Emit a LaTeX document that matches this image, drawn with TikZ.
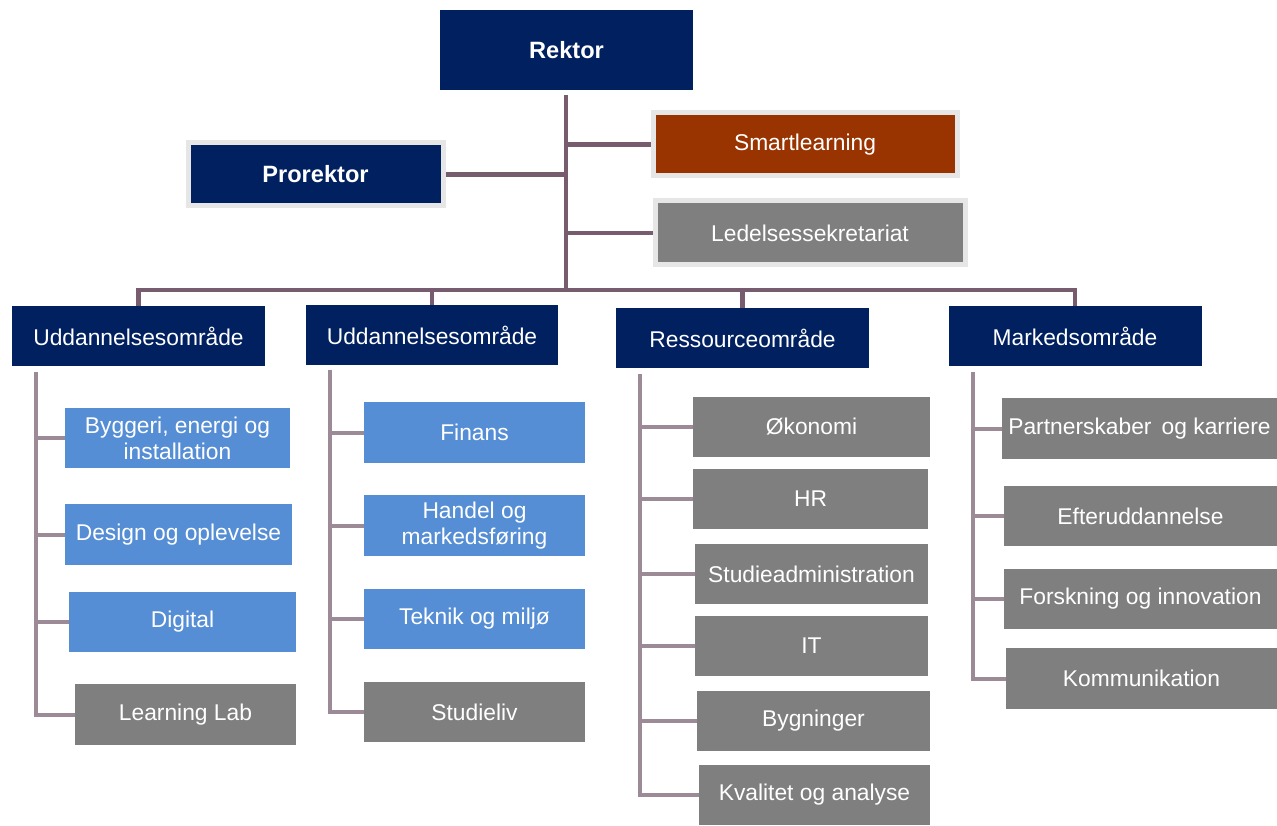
\documentclass[tikz,border=0pt]{standalone}
\usepackage{fontspec}
\setmainfont{Liberation Sans}
\usepackage{tikz}

\definecolor{navy}{RGB}{0,32,96}
\definecolor{rust}{RGB}{153,51,0}
\definecolor{lyseblaa}{RGB}{85,142,213}
\definecolor{graa}{RGB}{127,127,127}
\definecolor{ramme}{RGB}{230,230,230}
\definecolor{linjemork}{RGB}{118,92,110}
\definecolor{linjelys}{RGB}{156,138,150}

\tikzset{
  boks/.style={rectangle,inner sep=2pt,text=white,align=center,font=\fontsize{22.8}{26}\selectfont},
  chef/.style={boks,fill=navy,font=\fontsize{23.6}{27}\selectfont\bfseries},
  stab/.style={boks,draw=ramme,line width=5pt},
  omr/.style={boks,fill=navy},
  fag/.style={boks,fill=lyseblaa},
  adm/.style={boks,fill=graa},
  linje/.style={draw=linjemork,line width=4.5pt},
  gren/.style={draw=linjelys,line width=4pt}
}

\begin{document}
\begin{tikzpicture}[x=1pt,y=-1pt]
\useasboundingbox (0,0) rectangle (1277,826);

\node[chef,minimum width=253pt,minimum height=80pt] (rektor) at (566.5,50) {Rektor};
\node[stab,chef,minimum width=255pt,minimum height=63pt] (prorektor) at (315.5,174.5) {Prorektor};
\node[stab,fill=rust,minimum width=304pt,minimum height=63pt] (smart) at (805,144.5) {Smartlearning};
\node[stab,fill=graa,minimum width=310pt,minimum height=64pt] (sekr) at (810,233) {Ledelsessekretariat};

\node[omr,minimum width=253pt,minimum height=60pt] (omr1) at (138.5,336) {Uddannelsesområde};
\node[omr,minimum width=252pt,minimum height=60pt] (omr2) at (432,335) {Uddannelsesområde};
\node[omr,minimum width=253pt,minimum height=60pt] (omr3) at (742.5,338) {Ressourceområde};
\node[omr,minimum width=253pt,minimum height=60pt] (omr4) at (1075,336) {Markedsområde};

\coordinate (top) at (566,95);
\coordinate (bus) at (566,290);
\draw[linje] (top) -- (bus);
\draw[linje] (prorektor.east) -- (prorektor.east -| bus);
\draw[linje] (smart.west) -- (smart.west -| bus);
\draw[linje] (sekr.west) -- (sekr.west -| bus);
\draw[linje] (omr1.north) |- (bus) -| (omr4.north);
\draw[linje] (omr2.north) -- (omr2.north |- bus);
\draw[linje] (omr3.north) -- (omr3.north |- bus);

\node[fag,minimum width=225pt,minimum height=60pt] (c11) at (177.5,438) {Byggeri, energi og\\installation};
\node[fag,minimum width=227pt,minimum height=61pt] (c12) at (178.5,534.5) {Design og oplevelse};
\node[fag,minimum width=227pt,minimum height=60pt] (c13) at (182.5,622) {Digital};
\node[adm,minimum width=221pt,minimum height=61pt] (c14) at (185.5,714.5) {Learning Lab};

\node[fag,minimum width=221pt,minimum height=61pt] (c21) at (474.5,432.5) {Finans};
\node[fag,minimum width=221pt,minimum height=61pt] (c22) at (474.5,525.5) {Handel og\\markedsføring};
\node[fag,minimum width=221pt,minimum height=60pt] (c23) at (474.5,619) {Teknik og miljø};
\node[adm,minimum width=221pt,minimum height=60pt] (c24) at (474.5,712) {Studieliv};

\node[adm,minimum width=237pt,minimum height=60pt] (c31) at (811.5,427) {Økonomi};
\node[adm,minimum width=235pt,minimum height=60pt] (c32) at (810.5,499) {HR};
\node[adm,minimum width=233pt,minimum height=60pt] (c33) at (811.5,574) {Studieadministration};
\node[adm,minimum width=233pt,minimum height=60pt] (c34) at (811.5,646) {IT};
\node[adm,minimum width=233pt,minimum height=60pt] (c35) at (813.5,721) {Bygninger};
\node[adm,minimum width=231pt,minimum height=60pt] (c36) at (814.5,795) {Kvalitet og analyse};

\node[adm,minimum width=275pt,minimum height=61pt] (c41) at (1139.5,428.5) {Partnerskaber\, og karriere};
\node[adm,minimum width=273pt,minimum height=60pt] (c42) at (1140.5,516) {Efteruddannelse};
\node[adm,minimum width=273pt,minimum height=60pt] (c43) at (1140.5,599) {Forskning og innovation};
\node[adm,minimum width=271pt,minimum height=61pt] (c44) at (1141.5,678.5) {Kommunikation};

\coordinate (s1) at (36,372);
\coordinate (s2) at (330,370);
\coordinate (s3) at (640,374);
\coordinate (s4) at (973,372);
\foreach \c in {c11,c12,c13,c14} \draw[gren] (s1) |- (\c.west);
\foreach \c in {c21,c22,c23,c24} \draw[gren] (s2) |- (\c.west);
\foreach \c in {c31,c32,c33,c34,c35,c36} \draw[gren] (s3) |- (\c.west);
\foreach \c in {c41,c42,c43,c44} \draw[gren] (s4) |- (\c.west);
\end{tikzpicture}
\end{document}
